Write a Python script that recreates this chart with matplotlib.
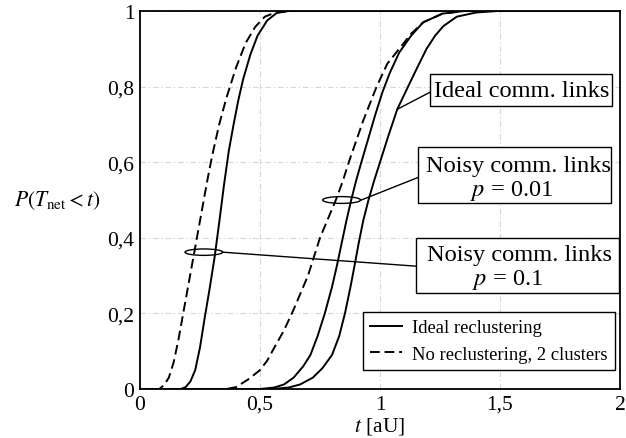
import matplotlib
matplotlib.use("Agg")
import matplotlib.pyplot as plt
from matplotlib.patches import Ellipse, Rectangle

plt.rcParams['font.family'] = ['Liberation Serif', 'DejaVu Serif']
plt.rcParams['mathtext.fontset'] = 'stix'
plt.rcParams['lines.scale_dashes'] = False

# CDF of network completion time P(T_net < t)
# p = 0.1, no reclustering (2 clusters)
t_p1_nr = [0.00, 0.08, 0.10, 0.12, 0.14, 0.16, 0.18, 0.20, 0.22, 0.24, 0.26, 0.28,
           0.30, 0.33, 0.36, 0.40, 0.44, 0.48, 0.52, 0.56, 0.62, 2.00]
p_p1_nr = [0.00, 0.00, 0.01, 0.03, 0.07, 0.13, 0.20, 0.27, 0.34, 0.41, 0.48, 0.55,
           0.615, 0.70, 0.77, 0.85, 0.915, 0.958, 0.985, 0.995, 1.00, 1.00]
# p = 0.1, ideal reclustering
t_p1_id = [0.00, 0.17, 0.19, 0.21, 0.23, 0.25, 0.27, 0.29, 0.31, 0.33, 0.35, 0.37,
           0.39, 0.41, 0.43, 0.46, 0.49, 0.53, 0.57, 0.62, 2.00]
p_p1_id = [0.00, 0.00, 0.005, 0.02, 0.05, 0.11, 0.19, 0.265, 0.345, 0.44, 0.54, 0.63,
           0.70, 0.765, 0.82, 0.885, 0.935, 0.975, 0.995, 1.00, 1.00]
# p = 0.01, no reclustering (2 clusters)
t_p01_nr = [0.00, 0.36, 0.40, 0.45, 0.50, 0.53, 0.56, 0.60, 0.64, 0.67, 0.70, 0.75,
            0.783, 0.816, 0.845, 0.87, 0.93, 0.986, 1.03, 1.08, 1.13, 1.18, 1.26, 1.35, 2.00]
p_p01_nr = [0.00, 0.00, 0.005, 0.025, 0.05, 0.075, 0.11, 0.155, 0.21, 0.255, 0.30, 0.40,
            0.45, 0.50, 0.55, 0.60, 0.71, 0.80, 0.86, 0.90, 0.94, 0.97, 0.993, 1.00, 1.00]
# p = 0.01, ideal reclustering
t_p01_id = [0.00, 0.50, 0.56, 0.60, 0.64, 0.68, 0.71, 0.74, 0.77, 0.80, 0.82, 0.84,
            0.86, 0.88, 0.90, 0.92, 0.95, 0.98, 1.01, 1.04, 1.08, 1.13, 1.18, 1.26, 1.35, 2.00]
p_p01_id = [0.00, 0.00, 0.004, 0.012, 0.03, 0.06, 0.09, 0.14, 0.20, 0.27, 0.325, 0.385,
            0.445, 0.50, 0.55, 0.595, 0.66, 0.725, 0.785, 0.835, 0.89, 0.935, 0.97, 0.993, 1.00, 1.00]
# ideal communication links, ideal reclustering
t_ideal = [0.00, 0.55, 0.62, 0.667, 0.72, 0.76, 0.80, 0.83, 0.854, 0.877, 0.895, 0.911,
           0.93, 0.952, 0.975, 1.00, 1.035, 1.072, 1.117, 1.155, 1.194, 1.23, 1.264,
           1.32, 1.40, 1.49, 2.00]
p_ideal = [0.00, 0.00, 0.004, 0.012, 0.03, 0.055, 0.09, 0.14, 0.20, 0.27, 0.33, 0.385,
           0.445, 0.50, 0.55, 0.60, 0.67, 0.74, 0.80, 0.85, 0.90, 0.935, 0.96,
           0.985, 0.996, 1.00, 1.00]

x_ticks = [0, 0.5, 1, 1.5, 2]
x_tick_labels = ["0", "0,5", "1", "1,5", "2"]
y_ticks = [0, 0.2, 0.4, 0.6, 0.8, 1]
y_tick_labels = ["0", "0,2", "0,4", "0,6", "0,8", "1"]

fig = plt.figure(figsize=(6.26, 4.39), dpi=100)
ax = fig.add_axes([140 / 626, 49 / 439, 480 / 626, 378 / 439])

lw = 1.4
dash = (7, 3.5)
ax.plot(t_ideal, p_ideal, color="black", lw=lw, label="Ideal reclustering", zorder=3)
ax.plot(t_p01_id, p_p01_id, color="black", lw=lw, zorder=3)
ax.plot(t_p1_id, p_p1_id, color="black", lw=lw, zorder=3)
ax.plot(t_p01_nr, p_p01_nr, color="black", lw=lw, dashes=dash,
        label="No reclustering, 2 clusters", zorder=3)
ax.plot(t_p1_nr, p_p1_nr, color="black", lw=lw, dashes=dash, zorder=3)

ax.set_xlim(0, 2)
ax.set_ylim(0, 1)
ax.set_xticks(x_ticks, x_tick_labels)
ax.set_yticks(y_ticks, y_tick_labels)
ax.tick_params(length=0, labelsize=15.5, pad=4)
ax.grid(True, color="#d6d6d6", lw=0.8, dashes=(4, 2, 1, 2))
for s in ax.spines.values():
    s.set_linewidth(1.3)
    s.set_color("black")
    s.set_zorder(4)

ax.set_xlabel(r"$t$ [aU]", fontsize=15.5, labelpad=1)
ax.set_ylabel(r"$P(T_{\mathrm{net}} < t)$", fontsize=15.5, rotation=0,
              ha="center", va="center")
ax.yaxis.set_label_coords(-0.173, 0.5)

# Ellipses grouping the curve pairs
ax.add_patch(Ellipse((0.84, 0.50), 0.158, 0.018, fill=False, ec="black", lw=1.0, zorder=5))
ax.add_patch(Ellipse((0.266, 0.362), 0.157, 0.017, fill=False, ec="black", lw=1.0, zorder=5))

# Leader lines
ax.plot([1.208, 1.072], [0.785, 0.74], color="black", lw=1.0, zorder=5)
ax.plot([1.16, 0.922], [0.56, 0.50], color="black", lw=1.0, zorder=5)
ax.plot([1.149, 0.344], [0.325, 0.362], color="black", lw=1.0, zorder=5)

# Annotation boxes
box_fs = 17.6
for (x0, x1, y0, y1) in [(1.208, 1.967, 0.749, 0.833),
                         (1.158, 1.9625, 0.492, 0.640),
                         (1.149, 1.995, 0.254, 0.399)]:
    ax.add_patch(Rectangle((x0, y0), x1 - x0, y1 - y0, facecolor="white",
                           edgecolor="black", lw=1.0, zorder=6))

ax.text(1.59, 0.774, "Ideal comm. links", ha="center", va="baseline", fontsize=box_fs, zorder=7)
ax.text(1.575, 0.5776, "Noisy comm. links", ha="center", va="baseline", fontsize=box_fs, zorder=7)
ax.text(1.55, 0.513, r"$p$ = 0.01", ha="center", va="baseline", fontsize=box_fs, zorder=7)
ax.text(1.583, 0.342, "Noisy comm. links", ha="center", va="baseline", fontsize=box_fs, zorder=7)
ax.text(1.533, 0.278, r"$p$ = 0.1", ha="center", va="baseline", fontsize=box_fs, zorder=7)

leg = ax.legend(loc="lower right", bbox_to_anchor=(0.9896, 0.0503), borderaxespad=0,
                fontsize=13.4, frameon=True, fancybox=False, framealpha=1,
                edgecolor="black", handlelength=1.7, handletextpad=0.55,
                labelspacing=0.5, borderpad=0.4)
leg.get_frame().set_linewidth(1.0)
leg.set_zorder(8)

fig.savefig("out.png", dpi=100)
